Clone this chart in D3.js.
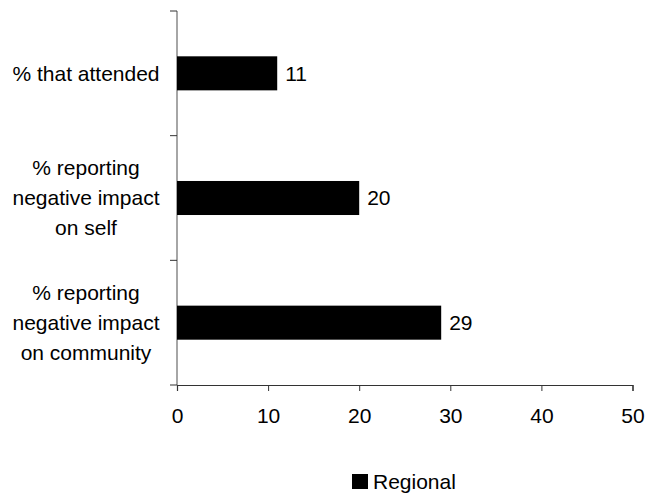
<!DOCTYPE html>
<html>
<head>
<meta charset="utf-8">
<script src="https://cdn.jsdelivr.net/npm/d3@7/dist/d3.min.js"></script>
<style>
  html, body { margin: 0; padding: 0; background: #fff; }
  svg { display: block; font-family: "Liberation Sans", Arial, sans-serif; }
</style>
</head>
<body>
<svg id="chart" width="646" height="493"></svg>
<script>
// Survey results, regional figures
const categories = [
  ["% that attended"],
  ["% reporting", "negative impact", "on self"],
  ["% reporting", "negative impact", "on community"]
];
const regionalValues = [11, 20, 29];
const xTicks = [0, 10, 20, 30, 40, 50];
const seriesName = "Regional";

const svg = d3.select("#chart");
const fontSize = 21;

const x = d3.scaleLinear().domain([0, 50]).range([177, 632.5]);
const y = d3.scaleBand()
  .domain(d3.range(categories.length))
  .range([11, 385])
  .paddingInner(0.727)
  .paddingOuter(0.3635);

const step = y.step();
const y0 = 385;

// x axis
const xAxis = svg.append("g")
  .attr("transform", `translate(0,${y0})`)
  .call(d3.axisBottom(x).tickValues(xTicks).tickSize(6).tickPadding(17).tickSizeOuter(6));
xAxis.select(".domain").attr("stroke", "#333").attr("stroke-width", 1.2);
xAxis.selectAll(".tick line").attr("stroke", "#333");
xAxis.selectAll(".tick text")
  .attr("font-size", fontSize)
  .attr("font-family", "Liberation Sans, Arial, sans-serif")
  .attr("fill", "#000");

// y axis line and band boundary ticks
svg.append("line")
  .attr("x1", x(0)).attr("x2", x(0))
  .attr("y1", 11).attr("y2", y0)
  .attr("stroke", "#808080").attr("stroke-width", 1.4);

const boundaries = d3.range(categories.length + 1).map(i => 11 + i * step);
svg.selectAll("line.ytick")
  .data(boundaries)
  .join("line")
  .attr("class", "ytick")
  .attr("x1", x(0) - 7).attr("x2", x(0))
  .attr("y1", d => d).attr("y2", d => d)
  .attr("stroke", "#333").attr("stroke-width", 1);

// category labels
const labelX = 86;
const lineH = 30;
categories.forEach((lines, i) => {
  const cy = y(i) + y.bandwidth() / 2;
  const t = svg.append("text")
    .attr("x", labelX)
    .attr("text-anchor", "middle")
    .attr("font-size", fontSize)
    .attr("fill", "#000");
  lines.forEach((ln, j) => {
    t.append("tspan")
      .attr("x", labelX)
      .attr("y", cy + (j - (lines.length - 1) / 2) * lineH)
      .attr("dy", "0.35em")
      .text(ln);
  });
});

// bars
svg.selectAll("rect.bar")
  .data(regionalValues)
  .join("rect")
  .attr("class", "bar")
  .attr("x", x(0))
  .attr("y", (d, i) => y(i))
  .attr("width", d => x(d) - x(0))
  .attr("height", y.bandwidth())
  .attr("fill", "#000");

// value labels
svg.selectAll("text.val")
  .data(regionalValues)
  .join("text")
  .attr("class", "val")
  .attr("x", d => x(d) + 8)
  .attr("y", (d, i) => y(i) + y.bandwidth() / 2)
  .attr("dy", "0.35em")
  .attr("font-size", fontSize)
  .attr("fill", "#000")
  .text(d => d);

// legend
const legend = svg.append("g").attr("transform", "translate(352,474)");
legend.append("rect").attr("width", 16).attr("height", 15).attr("fill", "#000");
legend.append("text")
  .attr("x", 21).attr("y", 7.5).attr("dy", "0.35em")
  .attr("font-size", fontSize)
  .attr("fill", "#000")
  .text(seriesName);
</script>
</body>
</html>
